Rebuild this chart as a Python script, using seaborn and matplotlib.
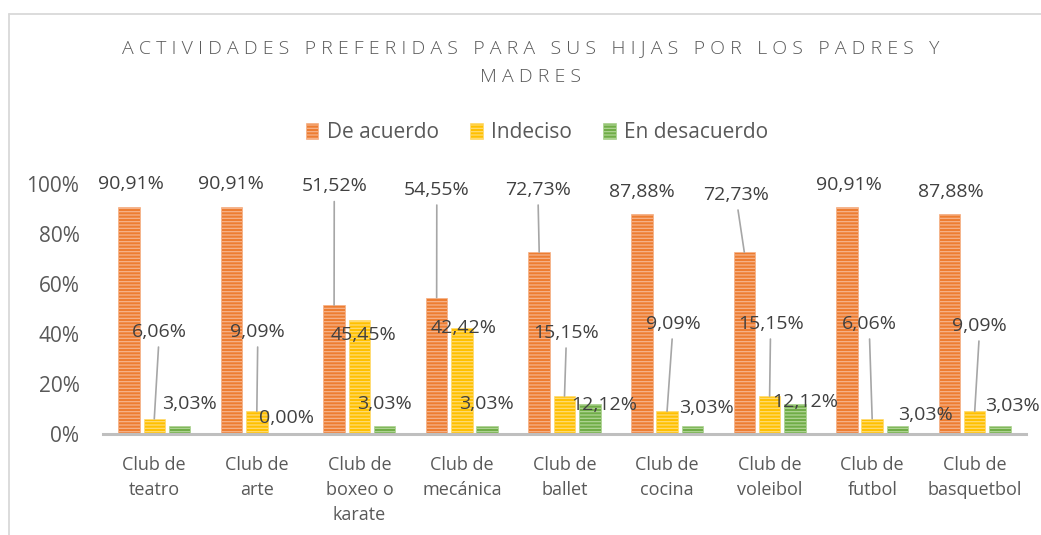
import matplotlib
matplotlib.use("Agg")
import matplotlib.pyplot as plt
from matplotlib.patches import Patch
from matplotlib.lines import Line2D
import seaborn as sns
import pandas as pd

# Data (percent)
clubs = ["Club de\nteatro", "Club de\narte", "Club de\nboxeo o\nkarate", "Club de\nmecánica",
         "Club de\nballet", "Club de\ncocina", "Club de\nvoleibol", "Club de\nfutbol",
         "Club de\nbasquetbol"]
series = ["De acuerdo", "Indeciso", "En desacuerdo"]
de_acuerdo = [90.91, 90.91, 51.52, 54.55, 72.73, 87.88, 72.73, 90.91, 87.88]
indeciso = [6.06, 9.09, 45.45, 42.42, 15.15, 9.09, 15.15, 6.06, 9.09]
en_desacuerdo = [3.03, 0.00, 3.03, 3.03, 12.12, 3.03, 12.12, 3.03, 3.03]
yticks = [0, 20, 40, 60, 80, 100]

# label layout (Excel moved the labels around by hand)
label_dx = [
    [-0.23, -0.25, -0.245, -0.245, -0.26, -0.245, -0.33, -0.23, -0.23],
    [0.05, 0.01, 0.04, 0.02, 0.02, 0.06, 0.01, -0.03, 0.05],
    [0.34, 0.29, 0.24, 0.235, 0.39, 0.38, 0.35, 0.52, 0.37],
]
label_y = [
    [100, 100, 99, 97.6, 97.6, 96.8, 95.6, 99.6, 96.8],
    [40.8, 40.8, 39.6, 42.4, 40.4, 44, 44, 44, 43.2],
    [12, 6.4, 12, 12, 11.6, 10.4, 12.8, 7.6, 11.2],
]
leaders = [
    [2, 3, 4, 6],
    [0, 1, 4, 5, 6, 7, 8],
    [],
]

colors = ["#ED7D31", "#FFC000", "#70AD47"]
stripes = ["#F6B38A", "#FFDC73", "#AFD494"]

df = pd.DataFrame({
    "club": clubs * 3,
    "serie": [s for s in series for _ in clubs],
    "valor": de_acuerdo + indeciso + en_desacuerdo,
})

sns.set_style("white")
plt.rcParams["font.family"] = ["Open Sans", "DejaVu Sans"]
plt.rcParams["hatch.linewidth"] = 0.9

fig = plt.figure(figsize=(10.41, 5.35), dpi=100)
ax = fig.add_axes([103 / 1041, 1 - 434 / 535, (1026 - 103) / 1041, 250 / 535])

sns.barplot(data=df, x="club", y="valor", hue="serie", palette=colors, saturation=1,
            width=0.74, gap=0.15, legend=False, ax=ax)

# striped fill like the Excel pattern
for cont, st in zip(ax.containers, stripes):
    for rect in cont:
        rect.set_hatch("-----")
        rect.set_edgecolor(st)
        rect.set_linewidth(0.5)

ax.set_ylim(0, 100)
ax.set_xlim(-0.5, len(clubs) - 0.5)
ax.set_yticks(yticks)
ax.set_yticklabels([f"{t}%" for t in yticks])
ax.set_xlabel("")
ax.set_ylabel("")
ax.tick_params(axis="y", length=0, pad=17, labelsize=15, labelcolor="#595959")
ax.tick_params(axis="x", length=0, pad=16, labelsize=13, labelcolor="#595959")
for lab in ax.get_xticklabels():
    lab.set_linespacing(1.5)
    lab.set_va("top")
for side in ["left", "right", "top"]:
    ax.spines[side].set_visible(False)
ax.spines["bottom"].set_color("#BFBFBF")
ax.spines["bottom"].set_linewidth(2.2)

# value labels
for s, cont in enumerate(ax.containers):
    for i, rect in enumerate(cont):
        v = rect.get_height()
        bx = rect.get_x() + rect.get_width() / 2
        txt = f"{v:.2f}%".replace(".", ",")
        arrow = None
        if i in leaders[s]:
            arrow = dict(arrowstyle="-", color="#A6A6A6", lw=1.2, shrinkA=2, shrinkB=0)
        ax.annotate(txt, xy=(bx, v), xytext=(i + label_dx[s][i], label_y[s][i]),
                    ha="center", va="center", fontsize=14, color="#404040",
                    arrowprops=arrow, annotation_clip=False)

# title
def spaced(line):
    return "   ".join(" ".join(w) for w in line.split())

fig.text(531 / 1041, 1 - 48 / 535, spaced("ACTIVIDADES PREFERIDAS PARA SUS HIJAS POR LOS PADRES Y"),
         ha="center", va="center", fontsize=14, color="#595959", fontweight="light")
fig.text(531 / 1041, 1 - 77 / 535, spaced("MADRES"),
         ha="center", va="center", fontsize=14, color="#595959", fontweight="light")

# legend
handles = [Patch(facecolor=c, edgecolor=st, hatch="-----", linewidth=0.5)
           for c, st in zip(colors, stripes)]
leg = fig.legend(handles, series, loc="center", bbox_to_anchor=(537 / 1041, 1 - 133 / 535),
                 ncol=3, frameon=False, fontsize=15, handlelength=0.6, handleheight=0.8,
                 handletextpad=0.4, columnspacing=1.5)
for t in leg.get_texts():
    t.set_color("#595959")

# chart area border (only left/top visible in the crop)
fig.add_artist(Line2D([8.5 / 1041, 8.5 / 1041], [0, 1 - 13.5 / 535],
                      transform=fig.transFigure, color="#D9D9D9", lw=1.3))
fig.add_artist(Line2D([8.5 / 1041, 1], [1 - 13.5 / 535, 1 - 13.5 / 535],
                      transform=fig.transFigure, color="#D9D9D9", lw=1.3))

fig.savefig("out.png", dpi=100)
